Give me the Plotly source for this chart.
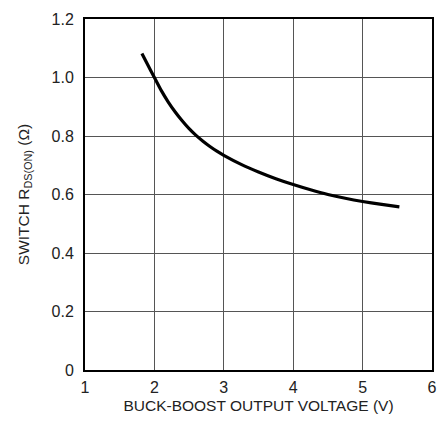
import plotly.graph_objects as go

# Switch on-resistance vs buck-boost output voltage
vout = [1.82, 1.90, 2.00, 2.10, 2.20, 2.30, 2.40, 2.50, 2.60, 2.70, 2.80, 2.90, 3.00,
        3.25, 3.50, 3.75, 4.00, 4.25, 4.50, 4.75, 5.00, 5.25, 5.53]
rdson = [1.082, 1.045, 1.000, 0.955, 0.916, 0.882, 0.852, 0.825, 0.802, 0.782, 0.764, 0.748, 0.734,
         0.703, 0.677, 0.654, 0.634, 0.616, 0.600, 0.587, 0.576, 0.567, 0.558]

x_ticks = [1, 2, 3, 4, 5, 6]
y_ticks = [0, 0.2, 0.4, 0.6, 0.8, 1.0, 1.2]
y_tick_text = ["0", "0.2", "0.4", "0.6", "0.8", "1.0", "1.2"]

font_family = "Liberation Sans, Arial, sans-serif"

fig = go.Figure()
fig.add_trace(go.Scatter(
    x=vout, y=rdson, mode="lines",
    line=dict(color="black", width=3.2, shape="spline", smoothing=0.6),
    showlegend=False, hoverinfo="skip",
))

fig.update_layout(
    width=443, height=423,
    margin=dict(l=85, r=6, t=19, b=53),
    paper_bgcolor="white", plot_bgcolor="white",
    font=dict(family=font_family, size=15, color="#222"),
    xaxis=dict(
        range=[1, 6], tickvals=x_ticks, ticks="", showgrid=True,
        gridcolor="#555", gridwidth=1, zeroline=False,
        showline=True, linecolor="black", linewidth=2, mirror=True,
        title=dict(text="BUCK-BOOST OUTPUT VOLTAGE (V)", font=dict(size=15.5), standoff=5),
        tickfont=dict(size=16), ticklabelstandoff=2,
    ),
    yaxis=dict(
        range=[0, 1.2], tickvals=y_ticks, ticktext=y_tick_text, ticks="",
        showgrid=True, gridcolor="#555", gridwidth=1, zeroline=False,
        showline=True, linecolor="black", linewidth=2, mirror=True,
        title=dict(text="SWITCH R<sub>DS(ON)</sub> (Ω)", font=dict(size=15.5), standoff=18),
        tickfont=dict(size=16), ticklabelstandoff=6,
    ),
)

fig.write_html("out.html")
